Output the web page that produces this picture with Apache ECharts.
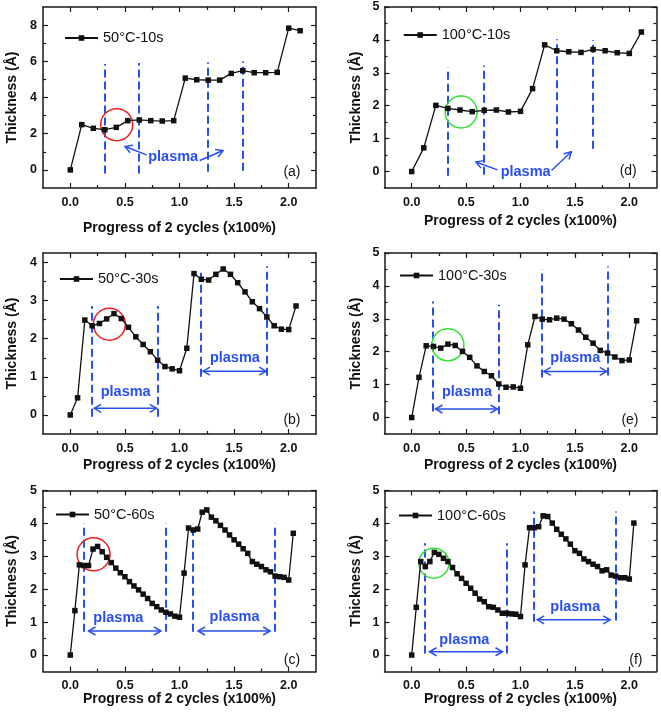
<!DOCTYPE html>
<html><head><meta charset="utf-8">
<script src="https://cdn.jsdelivr.net/npm/echarts@6/dist/echarts.min.js"></script>
<style>html,body{margin:0;padding:0;background:#fff}#c{width:661px;height:712px}</style>
</head><body><div id="c"></div>
<script>
// ---------------- DATA ----------------
const xTickLabels = [0, 0.5, 1, 1.5, 2];
const xMinorTicks = [0.25, 0.75, 1.25, 1.75];

// (a) 50°C-10s
const a_name = '50°C-10s';
const a_x = [0, 0.105, 0.211, 0.316, 0.421, 0.526, 0.632, 0.737, 0.842, 0.947, 1.053, 1.158, 1.263, 1.368, 1.474, 1.579, 1.684, 1.789, 1.895, 2.0, 2.105];
const a_y = [0, 2.5, 2.3, 2.22, 2.35, 2.72, 2.76, 2.72, 2.7, 2.72, 5.07, 4.98, 4.96, 4.96, 5.33, 5.48, 5.37, 5.37, 5.39, 7.83, 7.69];
const a_yTicks = [0, 2, 4, 6, 8];
const a_yMinor = [1, 3, 5, 7];
const a_dashes = [[0.316, -0.2, 5.85], [0.632, -0.2, 5.9], [1.263, -0.1, 5.95], [1.579, -0.05, 6.0]];
const a_circle = [0.425, 2.5];
const a_plasma = [[0.942, 0.70]];
const a_arrows = [[0.699, 0.83, 0.501, 1.29], [1.185, 0.52, 1.398, 1.07]];
const a_tag = [2.03, -0.1];

// (b) 50°C-30s
const b_name = '50°C-30s';
const b_x = [0, 0.067, 0.133, 0.2, 0.267, 0.333, 0.4, 0.467, 0.533, 0.6, 0.667, 0.733, 0.8, 0.867, 0.933, 1.0, 1.067, 1.133, 1.2, 1.267, 1.333, 1.4, 1.467, 1.533, 1.6, 1.667, 1.733, 1.8, 1.867, 1.933, 2.0, 2.067];
const b_y = [0, 0.45, 2.49, 2.34, 2.4, 2.52, 2.66, 2.53, 2.3, 2.05, 1.85, 1.66, 1.44, 1.27, 1.21, 1.16, 1.75, 3.71, 3.56, 3.54, 3.69, 3.83, 3.69, 3.47, 3.23, 2.97, 2.79, 2.57, 2.34, 2.25, 2.24, 2.86];
const b_yTicks = [0, 1, 2, 3, 4];
const b_yMinor = [0.5, 1.5, 2.5, 3.5];
const b_dashes = [[0.2, -0.05, 2.86], [0.8, -0.05, 2.86], [1.2, 1.0, 3.82], [1.8, 1.03, 3.9]];
const b_circle = [0.358, 2.38];
const b_plasma = [[0.507, 0.61], [1.507, 1.485]];
const b_arrows = [[0.219, 0.175, 0.79, 0.175], [1.215, 1.15, 1.793, 1.15]];
const b_tag = [2.03, -0.13];

// (c) 50°C-60s
const c_name = '50°C-60s';
const c_x = [0, 0.042, 0.083, 0.125, 0.167, 0.208, 0.25, 0.292, 0.333, 0.375, 0.417, 0.458, 0.5, 0.542, 0.583, 0.625, 0.667, 0.708, 0.75, 0.792, 0.833, 0.875, 0.917, 0.958, 1.0, 1.042, 1.083, 1.125, 1.167, 1.208, 1.25, 1.292, 1.333, 1.375, 1.417, 1.458, 1.5, 1.542, 1.583, 1.625, 1.667, 1.708, 1.75, 1.792, 1.833, 1.875, 1.917, 1.958, 2.0, 2.042];
const c_y = [0, 1.35, 2.74, 2.72, 2.72, 3.22, 3.3, 3.14, 2.97, 2.81, 2.64, 2.5, 2.38, 2.23, 2.1, 1.98, 1.85, 1.72, 1.57, 1.47, 1.37, 1.3, 1.25, 1.18, 1.15,
             2.49, 3.86, 3.8, 3.83, 4.34, 4.41, 4.19, 4.08, 3.94, 3.8, 3.65, 3.5, 3.37, 3.23, 3.09, 2.84, 2.76, 2.69, 2.59, 2.53, 2.4, 2.38, 2.36, 2.28, 3.7];
const c_yTicks = [0, 1, 2, 3, 4, 5];
const c_yMinor = [0.5, 1.5, 2.5, 3.5, 4.5];
const c_dashes = [[0.125, 0.71, 4.0], [0.875, 0.71, 4.0], [1.125, 0.71, 4.0], [1.875, 0.71, 4.0]];
const c_circle = [0.213, 3.06];
const c_plasma = [[0.44, 1.12], [1.504, 1.15]];
const c_arrows = [[0.167, 0.73, 0.83, 0.73], [1.17, 0.73, 1.83, 0.73]];
const c_tag = [2.03, -0.15];

// (d) 100°C-10s
const d_name = '100°C-10s';
const d_x = [0, 0.111, 0.222, 0.333, 0.444, 0.556, 0.667, 0.778, 0.889, 1.0, 1.111, 1.222, 1.333, 1.444, 1.556, 1.667, 1.778, 1.889, 2.0, 2.111];
const d_y = [0, 0.72, 2.01, 1.92, 1.87, 1.82, 1.86, 1.87, 1.81, 1.83, 2.52, 3.85, 3.67, 3.64, 3.62, 3.71, 3.67, 3.61, 3.59, 4.24];
const d_yTicks = [0, 1, 2, 3, 4, 5];
const d_yMinor = [0.5, 1.5, 2.5, 3.5, 4.5];
const d_dashes = [[0.333, -0.13, 3.16], [0.667, -0.1, 3.22], [1.333, 0.71, 4.02], [1.667, 0.69, 4.0]];
const d_circle = [0.454, 1.81];
const d_plasma = [[1.047, -0.02]];
const d_arrows = [[0.788, 0.05, 0.59, 0.29], [1.285, 0.03, 1.467, 0.6]];
const d_tag = [1.99, 0.0];

// (e) 100°C-30s
const e_name = '100°C-30s';
const e_x = [0, 0.067, 0.133, 0.2, 0.267, 0.333, 0.4, 0.467, 0.533, 0.6, 0.667, 0.733, 0.8, 0.867, 0.933, 1.0, 1.067, 1.133, 1.2, 1.267, 1.333, 1.4, 1.467, 1.533, 1.6, 1.667, 1.733, 1.8, 1.867, 1.933, 2.0, 2.067];
const e_y = [0, 1.22, 2.18, 2.16, 2.11, 2.23, 2.19, 2.01, 1.83, 1.57, 1.4, 1.27, 1.02, 0.92, 0.93, 0.89, 2.21, 3.07, 2.99, 2.97, 3.02, 2.99, 2.85, 2.66, 2.44, 2.26, 2.04, 1.96, 1.84, 1.73, 1.75, 2.94];
const e_yTicks = [0, 1, 2, 3, 4, 5];
const e_yMinor = [0.5, 1.5, 2.5, 3.5, 4.5];
const e_dashes = [[0.2, 0.18, 3.53], [0.8, 0.1, 3.43], [1.2, 1.22, 4.51], [1.8, 1.28, 4.59]];
const e_circle = [0.332, 2.21];
const e_plasma = [[0.508, 0.79], [1.504, 1.82]];
const e_arrows = [[0.219, 0.26, 0.788, 0.26], [1.215, 1.4, 1.793, 1.4]];
const e_tag = [2.006, -0.09];

// (f) 100°C-60s
const f_name = '100°C-60s';
const f_x = [0, 0.042, 0.083, 0.125, 0.167, 0.208, 0.25, 0.292, 0.333, 0.375, 0.417, 0.458, 0.5, 0.542, 0.583, 0.625, 0.667, 0.708, 0.75, 0.792, 0.833, 0.875, 0.917, 0.958, 1.0, 1.042, 1.083, 1.125, 1.167, 1.208, 1.25, 1.292, 1.333, 1.375, 1.417, 1.458, 1.5, 1.542, 1.583, 1.625, 1.667, 1.708, 1.75, 1.792, 1.833, 1.875, 1.917, 1.958, 2.0, 2.042];
const f_y = [0, 1.45, 2.84, 2.69, 2.84, 3.12, 3.06, 2.94, 2.84, 2.66, 2.47, 2.33, 2.18, 2.03, 1.88, 1.7, 1.62, 1.47, 1.45, 1.37, 1.27, 1.27, 1.25, 1.24, 1.17,
             2.74, 3.87, 3.87, 3.9, 4.23, 4.21, 4.01, 3.82, 3.67, 3.53, 3.37, 3.17, 3.09, 2.92, 2.84, 2.76, 2.69, 2.56, 2.59, 2.43, 2.4, 2.35, 2.35, 2.31, 4.01];
const f_yTicks = [0, 1, 2, 3, 4, 5];
const f_yMinor = [0.5, 1.5, 2.5, 3.5, 4.5];
const f_dashes = [[0.125, 0.05, 3.4], [0.875, 0.05, 3.4], [1.125, 1.01, 4.36], [1.875, 1.05, 4.36]];
const f_circle = [0.204, 2.79];
const f_plasma = [[0.484, 0.46], [1.504, 1.47]];
const f_arrows = [[0.164, 0.1, 0.834, 0.1], [1.154, 1.07, 1.824, 1.07]];
const f_tag = [2.06, -0.15];

const xAxisTitle = 'Progress of 2 cycles (x100%)';
const yAxisTitle = 'Thickness (Å)';
const plasmaText = 'plasma';

// ---------------- LAYOUT / STYLE ----------------
const FONT = '"Liberation Sans", Arial, Helvetica, sans-serif';
const BLUE = '#2a4ff0';
const INK = '#111';
const FRAME = '#1a1a1a';

const panels = [
  {name:a_name, x:a_x, y:a_y, yMin:-1, yMax:9, yTicks:a_yTicks, yMinor:a_yMinor, dashes:a_dashes, circle:a_circle, plasma:a_plasma, arrows:a_arrows, tag:'(a)', tagPos:a_tag,
   circleColor:'#ee2020', circleR:16, dbl:false,
   grid:{left:43, top:7, width:273, height:181}, legend:{left:64, top:30.5}, xNameGap:33, yNameGap:24, yLabelMargin:6},
  {name:b_name, x:b_x, y:b_y, yMin:-0.5, yMax:4.25, yTicks:b_yTicks, yMinor:b_yMinor, dashes:b_dashes, circle:b_circle, plasma:b_plasma, arrows:b_arrows, tag:'(b)', tagPos:b_tag,
   circleColor:'#ee2020', circleR:16, dbl:true,
   grid:{left:43, top:253, width:273, height:181}, legend:{left:59, top:271.5}, xNameGap:24, yNameGap:24, yLabelMargin:6},
  {name:c_name, x:c_x, y:c_y, yMin:-0.5, yMax:5, yTicks:c_yTicks, yMinor:c_yMinor, dashes:c_dashes, circle:c_circle, plasma:c_plasma, arrows:c_arrows, tag:'(c)', tagPos:c_tag,
   circleColor:'#ee2020', circleR:16.5, dbl:true,
   grid:{left:43, top:490.5, width:273, height:181}, legend:{left:55, top:507}, xNameGap:20.5, yNameGap:24, yLabelMargin:6},
  {name:d_name, x:d_x, y:d_y, yMin:-0.5, yMax:5, yTicks:d_yTicks, yMinor:d_yMinor, dashes:d_dashes, circle:d_circle, plasma:d_plasma, arrows:d_arrows, tag:'(d)', tagPos:d_tag,
   circleColor:'#33e033', circleR:16, dbl:false,
   grid:{left:384.5, top:7, width:272, height:181}, legend:{left:402.7, top:27.5}, xNameGap:26, yNameGap:21, yLabelMargin:5},
  {name:e_name, x:e_x, y:e_y, yMin:-0.5, yMax:5, yTicks:e_yTicks, yMinor:e_yMinor, dashes:e_dashes, circle:e_circle, plasma:e_plasma, arrows:e_arrows, tag:'(e)', tagPos:e_tag,
   circleColor:'#33e033', circleR:16, dbl:true,
   grid:{left:384.5, top:253, width:272, height:181}, legend:{left:399, top:268}, xNameGap:24, yNameGap:21, yLabelMargin:5},
  {name:f_name, x:f_x, y:f_y, yMin:-0.5, yMax:5, yTicks:f_yTicks, yMinor:f_yMinor, dashes:f_dashes, circle:f_circle, plasma:f_plasma, arrows:f_arrows, tag:'(f)', tagPos:f_tag,
   circleColor:'#33e033', circleR:15, dbl:true,
   grid:{left:384.5, top:490.5, width:272, height:181}, legend:{left:398, top:508}, xNameGap:20.5, yNameGap:21, yLabelMargin:5}
];

const grids = [], xAxes = [], yAxes = [], series = [], legends = [];

function tickStyle(len, vals) {
  return {show:true, inside:true, length:len, customValues:vals, lineStyle:{color:FRAME, width:1.2}};
}
const lineOn = {show:true, onZero:false, lineStyle:{color:FRAME, width:1.5}};
const lineOff = {show:false, onZero:false};
const noLabel = {show:false};

panels.forEach((p, gi) => {
  grids.push(Object.assign({outerBoundsMode:'none', containLabel:false}, p.grid));
  const xc = {type:'value', gridIndex:gi, min:-0.25, max:2.25, splitLine:{show:false}};
  const yc = {type:'value', gridIndex:gi, min:p.yMin, max:p.yMax, splitLine:{show:false}};
  xAxes.push(Object.assign({}, xc, {position:'bottom', axisLine:lineOn, axisTick:tickStyle(5, xTickLabels),
    axisLabel:{show:true, customValues:xTickLabels, formatter:v => Number(v).toFixed(1), margin:8, color:INK, fontSize:12.5, fontWeight:'bold', fontFamily:FONT},
    name:xAxisTitle, nameLocation:'middle', nameGap:p.xNameGap, nameMoveOverlap:false,
    nameTextStyle:{color:INK, fontSize:14, fontWeight:'bold', fontFamily:FONT, verticalAlign:'top'}}));
  xAxes.push(Object.assign({}, xc, {position:'top', axisLine:lineOn, axisTick:tickStyle(5, xTickLabels), axisLabel:noLabel}));
  xAxes.push(Object.assign({}, xc, {position:'bottom', axisLine:lineOff, axisTick:tickStyle(3, xMinorTicks), axisLabel:noLabel}));
  xAxes.push(Object.assign({}, xc, {position:'top', axisLine:lineOff, axisTick:tickStyle(3, xMinorTicks), axisLabel:noLabel}));
  yAxes.push(Object.assign({}, yc, {position:'left', axisLine:lineOn, axisTick:tickStyle(5, p.yTicks),
    axisLabel:{show:true, customValues:p.yTicks, formatter:v => String(v), margin:p.yLabelMargin, color:INK, fontSize:12.5, fontWeight:'bold', fontFamily:FONT},
    name:yAxisTitle, nameLocation:'middle', nameGap:p.yNameGap, nameMoveOverlap:false,
    nameTextStyle:{color:INK, fontSize:14, fontWeight:'bold', fontFamily:FONT}}));
  yAxes.push(Object.assign({}, yc, {position:'right', axisLine:lineOn, axisTick:tickStyle(5, p.yTicks), axisLabel:noLabel}));
  yAxes.push(Object.assign({}, yc, {position:'left', axisLine:lineOff, axisTick:tickStyle(3, p.yMinor), axisLabel:noLabel}));
  yAxes.push(Object.assign({}, yc, {position:'right', axisLine:lineOff, axisTick:tickStyle(3, p.yMinor), axisLabel:noLabel}));

  const xi = gi * 4, yi = gi * 4;

  series.push({
    type:'custom', xAxisIndex:xi, yAxisIndex:yi, clip:false, silent:true, z:1, animation:false,
    data:[[0, 0]],
    renderItem: (params, api) => {
      const ch = [];
      p.dashes.forEach(d => {
        const p1 = api.coord([d[0], d[1]]), p2 = api.coord([d[0], d[2]]);
        const xx = Math.round(p1[0]);
        ch.push({type:'line', shape:{x1:xx, y1:p1[1], x2:xx, y2:p2[1]},
          style:{stroke:BLUE, lineWidth:2, lineDash:[8, 4], fill:null}});
      });
      const c = api.coord(p.circle);
      ch.push({type:'circle', shape:{cx:c[0], cy:c[1], r:p.circleR}, style:{fill:null, stroke:p.circleColor, lineWidth:1.5}});
      const head = (tip, from) => {
        const dx = tip[0] - from[0], dy = tip[1] - from[1];
        const L = Math.hypot(dx, dy) || 1, ux = dx / L, uy = dy / L;
        const s = 8, a = Math.PI / 6;
        const c1 = Math.cos(a), s1 = Math.sin(a);
        const b1 = [tip[0] - s * (ux * c1 - uy * s1), tip[1] - s * (uy * c1 + ux * s1)];
        const b2 = [tip[0] - s * (ux * c1 + uy * s1), tip[1] - s * (uy * c1 - ux * s1)];
        return {type:'polyline', shape:{points:[b1, tip, b2]}, style:{stroke:BLUE, lineWidth:1.5, fill:null}};
      };
      p.arrows.forEach(ar => {
        const t = api.coord([ar[0], ar[1]]), h = api.coord([ar[2], ar[3]]);
        ch.push({type:'line', shape:{x1:t[0], y1:t[1], x2:h[0], y2:h[1]}, style:{stroke:BLUE, lineWidth:1.5, fill:null}});
        ch.push(head(h, t));
        if (p.dbl) ch.push(head(t, h));
      });
      p.plasma.forEach(pt => {
        const q = api.coord(pt);
        ch.push({type:'text', style:{text:plasmaText, x:q[0], y:q[1], fill:BLUE, fontSize:14.5, fontWeight:'bold', fontFamily:FONT,
          align:'center', verticalAlign:'middle', textAlign:'center', textVerticalAlign:'middle'}});
      });
      const tq = api.coord(p.tagPos);
      ch.push({type:'text', style:{text:p.tag, x:tq[0], y:tq[1], fill:INK, fontSize:14, fontFamily:FONT,
        align:'center', verticalAlign:'middle', textAlign:'center', textVerticalAlign:'middle'}});
      return {type:'group', children:ch};
    }
  });

  series.push({
    type:'line', name:p.name, xAxisIndex:xi, yAxisIndex:yi, z:5, animation:false,
    data:p.x.map((v, i) => [v, p.y[i]]),
    symbol:'rect', symbolSize:5.5, showSymbol:true, showAllSymbol:true,
    lineStyle:{color:INK, width:1.3}, itemStyle:{color:INK}
  });

  legends.push({data:[p.name], left:p.legend.left, top:p.legend.top, padding:0, itemWidth:33, itemHeight:7,
    selectedMode:false, textStyle:{color:INK, fontSize:14.5, fontFamily:FONT}});
});

const chart = echarts.init(document.getElementById('c'), null, {renderer:'canvas'});
chart.setOption({
  animation:false,
  backgroundColor:'#ffffff',
  grid:grids, xAxis:xAxes, yAxis:yAxes, legend:legends, series:series
});
</script>
</body></html>
